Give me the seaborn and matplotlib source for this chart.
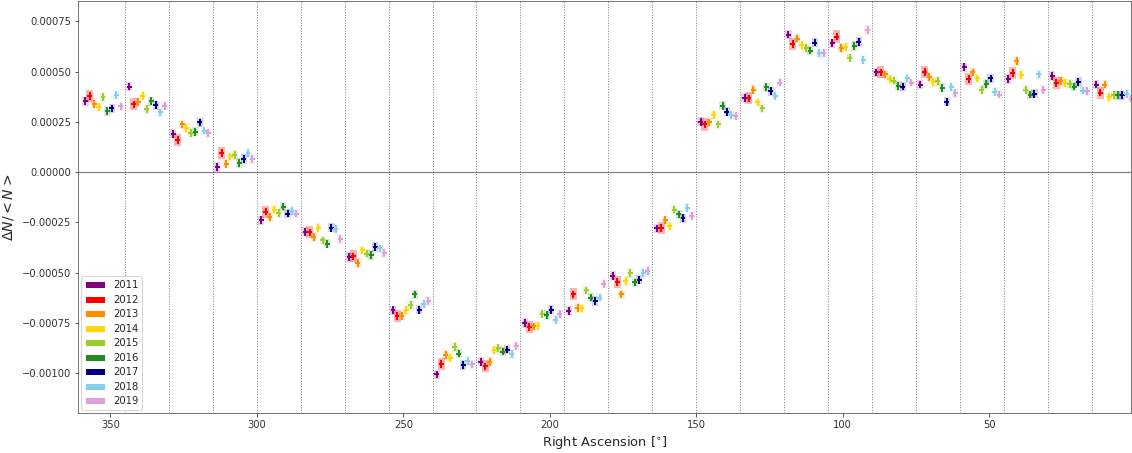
import numpy as np
import pandas as pd
import matplotlib
matplotlib.use('Agg')
import matplotlib.pyplot as plt
from matplotlib.patches import Patch, Rectangle
from matplotlib.ticker import MultipleLocator
import seaborn as sns

# --- Data (ΔN/<N> in units of 1e-4, one value per 15 deg RA bin, 360 -> 0) ---
BIN_WIDTH = 15
bin_upper = np.arange(360, 0, -BIN_WIDTH)  # 360, 345, ..., 15

years = ['2011', '2012', '2013', '2014', '2015', '2016', '2017', '2018', '2019']
colors = ['purple', 'red', 'darkorange', 'gold', 'yellowgreen',
          'forestgreen', 'navy', 'skyblue', 'plum']

dn_2011 = [3.53, 4.26, 1.91, 0.25, -2.40, -2.97, -4.23, -6.88, -10.07, -9.44, -7.51, -6.90,
           -5.16, -2.80, 2.50, 3.70, 6.85, 6.42, 4.96, 4.36, 5.22, 4.63, 4.79, 4.36]
dn_2012 = [3.80, 3.37, 1.61, 0.95, -1.97, -3.00, -4.20, -7.15, -9.54, -9.67, -7.71, -6.09,
           -5.46, -2.77, 2.37, 3.67, 6.38, 6.75, 4.96, 4.99, 4.63, 4.93, 4.43, 3.96]
dn_2013 = [3.40, 3.50, 2.37, 0.41, -2.24, -3.23, -4.53, -7.15, -9.10, -9.44, -7.68, -6.77,
           -6.09, -2.40, 2.47, 4.10, 6.65, 6.18, 4.86, 4.73, 4.96, 5.52, 4.53, 4.36]
dn_2014 = [3.23, 3.80, 2.20, 0.78, -1.87, -2.77, -3.90, -6.88, -9.24, -8.87, -7.65, -6.79,
           -5.42, -2.70, 2.84, 3.47, 6.32, 6.22, 4.63, 4.49, 4.66, 4.83, 4.43, 3.73]
dn_2015 = [3.73, 3.13, 1.94, 0.85, -2.04, -3.40, -4.06, -6.62, -8.71, -8.77, -7.05, -5.89,
           -5.02, -1.87, 2.37, 3.17, 6.18, 5.69, 4.56, 4.53, 4.10, 4.10, 4.39, 3.83]
dn_2016 = [3.03, 3.53, 2.01, 0.45, -1.72, -3.57, -4.13, -6.09, -9.04, -8.94, -7.11, -6.25,
           -5.49, -2.11, 3.30, 4.23, 6.05, 6.28, 4.29, 4.20, 4.39, 3.86, 4.26, 3.83]
dn_2017 = [3.17, 3.33, 2.47, 0.65, -2.07, -2.77, -3.73, -6.85, -9.60, -8.84, -6.85, -6.42,
           -5.36, -2.30, 3.00, 4.03, 6.45, 6.48, 4.26, 3.50, 4.66, 3.90, 4.49, 3.83]
dn_2018 = [3.83, 2.97, 2.07, 0.95, -1.94, -2.84, -3.80, -6.58, -9.40, -9.07, -7.35, -6.25,
           -5.02, -1.78, 2.84, 3.80, 5.92, 5.59, 4.66, 4.23, 4.00, 4.86, 4.06, 3.90]
dn_2019 = [3.27, 3.30, 1.94, 0.65, -2.07, -3.33, -4.03, -6.42, -9.57, -8.67, -7.08, -5.56,
           -4.91, -2.17, 2.80, 4.46, 5.92, 7.08, 4.46, 3.93, 3.86, 4.10, 4.03, 3.66]

all_dn = [dn_2011, dn_2012, dn_2013, dn_2014, dn_2015,
          dn_2016, dn_2017, dn_2018, dn_2019]

# error sizes (RA half-width in deg, ΔN/<N> half-height)
XERR = 0.85
YERR = 0.000019
BOX_W = {'2012': 1.2}
BOX_H = {'2012': 0.00003}

# --- Build a long table ---
rows = []
for i, (yr, vals) in enumerate(zip(years, all_dn)):
    for up, v in zip(bin_upper, vals):
        rows.append({'year': yr, 'ra': up - 1.5 - 1.5 * i, 'dn': v * 1e-4})
df = pd.DataFrame(rows)

# --- Plot ---
sns.set_style('ticks')
plt.rcParams['font.family'] = 'DejaVu Sans'

fig, ax = plt.subplots(figsize=(1132 / 72, 453 / 72), dpi=72)
fig.subplots_adjust(left=0.069, right=0.999, top=0.997, bottom=0.088)

for edge in bin_upper[1:]:
    ax.axvline(edge, color='gray', ls=':', lw=1, zorder=0)
ax.axhline(0, color='gray', lw=1.2, zorder=0)

for yr, col in zip(years, colors):
    sub = df[df['year'] == yr]
    bw = BOX_W.get(yr, XERR + 0.2)
    bh = BOX_H.get(yr, YERR + 0.000004)
    for x, y in zip(sub['ra'], sub['dn']):
        ax.add_patch(Rectangle((x - bw, y - bh), 2 * bw, 2 * bh,
                               facecolor=col, alpha=0.3 if yr == '2012' else 0.18,
                               edgecolor='none', zorder=1))
    ax.errorbar(sub['ra'], sub['dn'], xerr=XERR, yerr=YERR, fmt='none',
                ecolor=col, elinewidth=2, capsize=0, zorder=2)

sns.scatterplot(data=df, x='ra', y='dn', hue='year', palette=colors,
                marker='s', s=4, linewidth=0, legend=False, ax=ax, zorder=3)

ax.set_xlim(361, 1.6)
ax.set_ylim(-0.0012, 0.00085)
ax.yaxis.set_major_locator(MultipleLocator(0.00025))
ax.xaxis.set_major_locator(MultipleLocator(50))
ax.tick_params(labelsize=10, colors='#333333')
ax.set_xlabel(r'Right Ascension [$^{\circ}$]', fontsize=13)
ax.set_ylabel(r'$\Delta N/<N>$', fontsize=14, labelpad=6)

for s in ax.spines.values():
    s.set_color('#555555')

handles = [Patch(facecolor=c, label=y) for y, c in zip(years, colors)]
ax.legend(handles=handles, loc='lower left', fontsize=10, frameon=True,
          labelspacing=0.45, handlelength=2.0, borderaxespad=0.3)

fig.savefig('out.png', dpi=72)
